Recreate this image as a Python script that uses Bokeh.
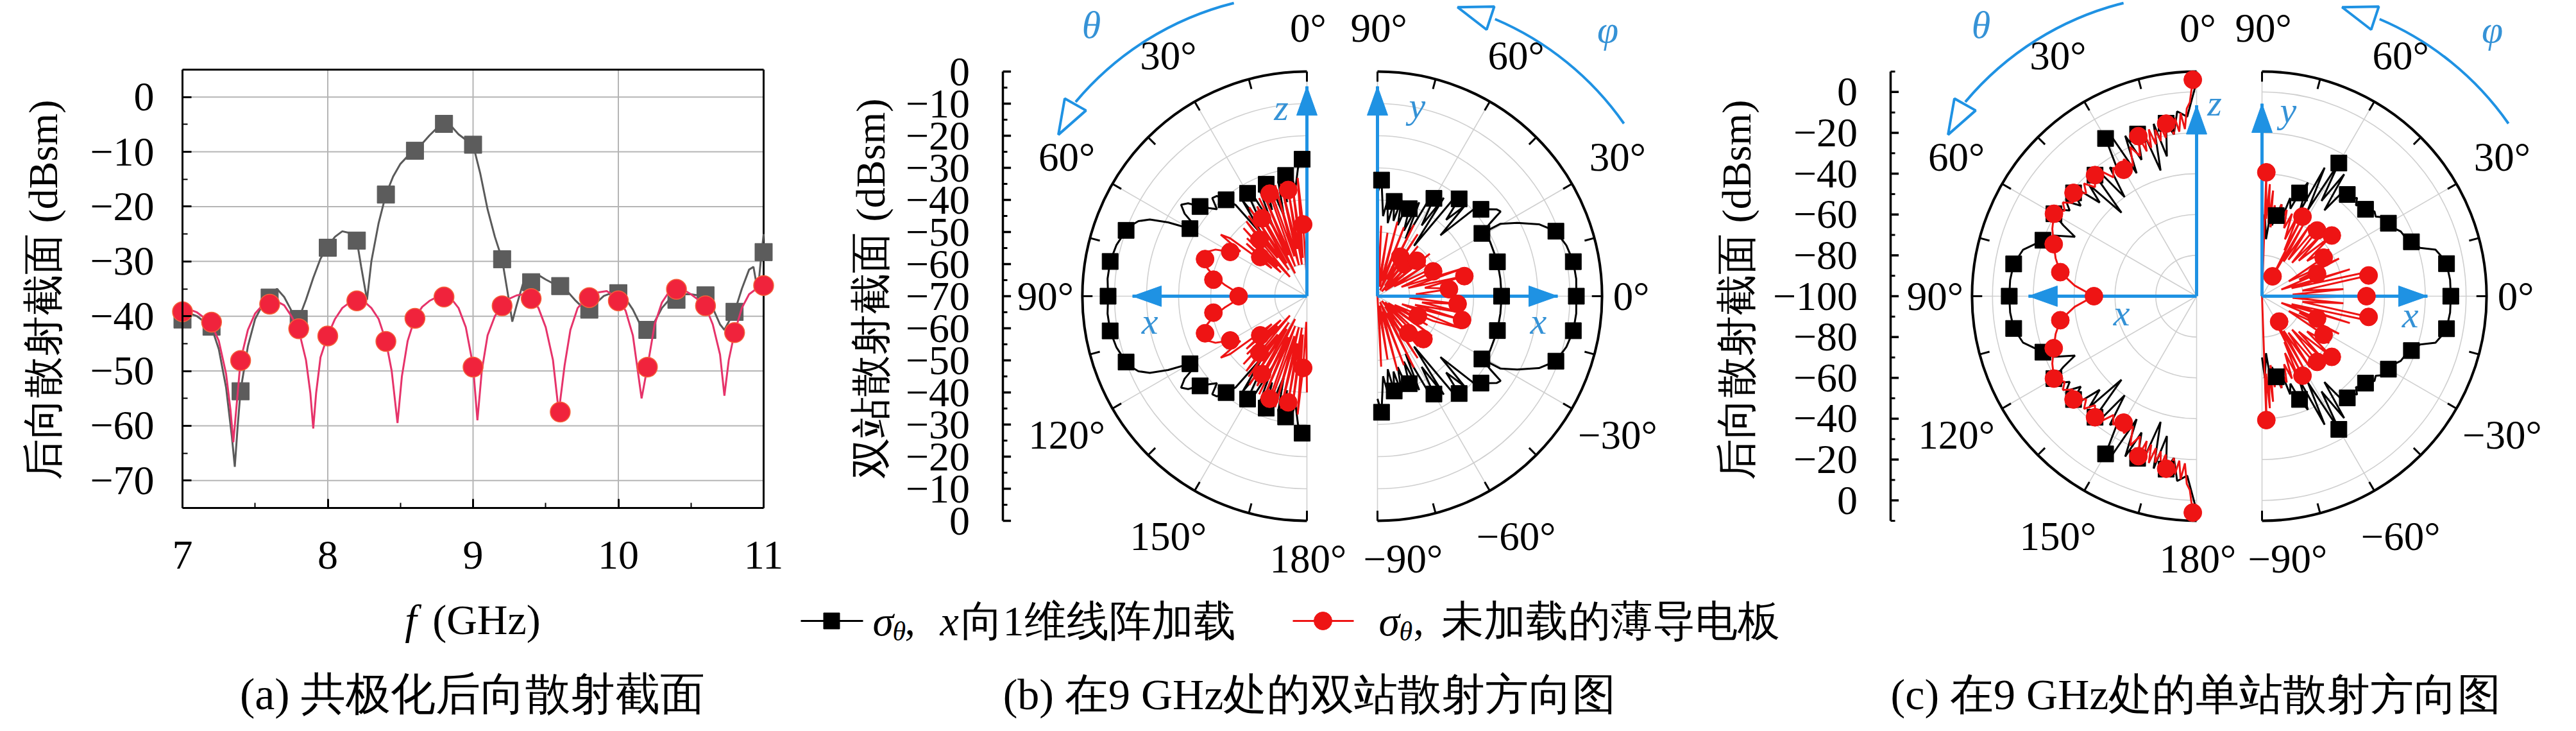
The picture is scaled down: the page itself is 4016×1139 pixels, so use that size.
import math
import numpy as np
from bokeh.plotting import figure
from bokeh.layouts import row
from bokeh.models import Range1d, FixedTicker, LinearAxis
from bokeh.core.properties import value
from bokeh.embed import file_html
from bokeh.resources import INLINE

FONT = "Liberation Serif"

# ======================= Panel (a): backscatter vs frequency =======================
freq_markers = [7.0, 7.2, 7.4, 7.6, 7.8, 8.0, 8.2, 8.4, 8.6, 8.8, 9.0,
                9.2, 9.4, 9.6, 9.8, 10.0, 10.2, 10.4, 10.6, 10.8, 11.0]
loaded_markers = [-40.6, -41.9, -53.7, -36.6, -40.5, -27.5, -26.2, -17.8, -9.8, -4.9, -8.7,
                  -29.6, -33.8, -34.5, -38.8, -35.8, -42.5, -37.0, -36.2, -39.2, -28.3]
plate_markers = [-39.2, -41.1, -48.1, -37.8, -42.3, -43.6, -37.2, -44.6, -40.4, -36.5, -49.3,
                 -38.1, -36.8, -57.5, -36.6, -37.2, -49.3, -35.1, -38.1, -43.0, -34.4]

loaded_curve = [(7.00, -39.5), (7.05, -39.5), (7.10, -40), (7.15, -41), (7.20, -42), (7.25, -46),
                (7.30, -53), (7.34, -62), (7.36, -67.5), (7.38, -60), (7.40, -53.5), (7.45, -45.5),
                (7.50, -40.5), (7.55, -38), (7.60, -36.5), (7.65, -35), (7.70, -36.5), (7.75, -39),
                (7.80, -40.5), (7.85, -37), (7.90, -33), (7.95, -29.5), (8.00, -27.2), (8.05, -25.5),
                (8.10, -24.5), (8.15, -24.8), (8.20, -26.2), (8.23, -31), (8.27, -37), (8.30, -30),
                (8.35, -23), (8.40, -17.8), (8.45, -14.5), (8.50, -12.2), (8.55, -10.8), (8.60, -9.8),
                (8.65, -8.5), (8.70, -7), (8.75, -5.7), (8.80, -4.8), (8.85, -5.3), (8.90, -6.8),
                (8.95, -7.8), (9.00, -8.7), (9.05, -14), (9.10, -20.5), (9.15, -25.5), (9.20, -29.6),
                (9.24, -36), (9.27, -41), (9.30, -38), (9.35, -33.5), (9.40, -32.5), (9.45, -32.5),
                (9.50, -33.3), (9.55, -34), (9.60, -34.5), (9.65, -35.5), (9.70, -37), (9.75, -38.3),
                (9.80, -38.8), (9.85, -37.5), (9.90, -36.3), (9.95, -35.8), (10.00, -35.8),
                (10.05, -36.8), (10.10, -38.8), (10.15, -41.5), (10.20, -43), (10.25, -41),
                (10.30, -38.5), (10.35, -37), (10.40, -36.3), (10.45, -36), (10.50, -36),
                (10.55, -36.2), (10.60, -36.5), (10.65, -38.5), (10.70, -41.5), (10.73, -42.5),
                (10.76, -41), (10.80, -39.2), (10.85, -35), (10.90, -31.5), (10.93, -31),
                (10.96, -35.5), (10.98, -30), (11.00, -25)]

plate_curve = [(7.00, -39.2), (7.05, -38.8), (7.10, -39.3), (7.15, -40.3), (7.20, -41.5), (7.25, -44.5),
               (7.30, -50.5), (7.33, -57), (7.35, -63), (7.37, -57), (7.40, -48), (7.45, -42.5),
               (7.50, -39.5), (7.55, -38), (7.60, -37.5), (7.65, -37.3), (7.70, -38), (7.75, -40),
               (7.80, -42.5), (7.85, -48), (7.88, -54), (7.90, -60.5), (7.92, -54), (7.95, -47.5),
               (8.00, -43.5), (8.05, -40.5), (8.10, -38.5), (8.15, -37.5), (8.20, -37), (8.25, -37.3),
               (8.30, -38.5), (8.35, -40.5), (8.40, -44.5), (8.44, -50), (8.48, -59.5), (8.51, -51),
               (8.55, -44.5), (8.60, -40.3), (8.65, -38.3), (8.70, -37.2), (8.75, -36.5), (8.80, -36.3),
               (8.85, -36.8), (8.90, -38.5), (8.95, -42), (9.00, -49), (9.03, -59), (9.06, -50),
               (9.10, -43.5), (9.15, -40), (9.20, -38), (9.25, -36.8), (9.30, -36.2), (9.35, -36),
               (9.40, -36.6), (9.45, -38.5), (9.50, -42), (9.55, -48), (9.59, -57.5), (9.63, -49),
               (9.67, -42.5), (9.72, -38.5), (9.78, -36.7), (9.85, -35.7), (9.92, -35.4),
               (10.00, -36.8), (10.05, -39), (10.10, -43.5), (10.16, -55), (10.20, -49.3),
               (10.25, -41.5), (10.30, -37.5), (10.35, -35.5), (10.40, -35), (10.45, -35.2),
               (10.50, -36), (10.55, -37), (10.60, -38.2), (10.65, -41.5), (10.70, -47),
               (10.73, -54.5), (10.76, -48), (10.80, -43), (10.85, -38.5), (10.90, -36),
               (10.95, -35), (11.00, -34.4)]

a_xticks = [7, 8, 9, 10, 11]
a_xminor = [7.5, 8.5, 9.5, 10.5]
a_yticks = [0, -10, -20, -30, -40, -50, -60, -70]
a_yminor = [-5, -15, -25, -35, -45, -55, -65]
a_ytick_labels = ["0", "−10", "−20", "−30", "−40", "−50", "−60", "−70"]

# ======================= Panel (b): bistatic pattern at 9 GHz (scale -70..0 dBsm) =======================
b_theta_black = [(0, -26), (2, -27.3), (4, -30), (6, -36), (8, -31), (10, -31.8), (12, -40), (14, -33),
                 (16, -44), (18, -34), (20, -32.9), (22, -41), (24, -34), (26, -46), (28, -35), (30, -33),
                 (32, -43), (34, -34), (36, -47), (38, -34), (40, -30.8), (42, -28), (44, -27.5), (46, -31),
                 (48, -29), (50, -26.5), (52, -23), (54, -21.5), (56, -24), (58, -29), (60, -27.9),
                 (62, -21), (64, -15.5), (66, -12.5), (68, -11), (70, -10), (75, -8.5), (80, -7.7),
                 (85, -7.6), (90, -8), (95, -7.6), (100, -7.7), (105, -8.5), (110, -10), (112, -11),
                 (114, -12.5), (116, -15.5), (118, -21), (120, -27.9), (122, -29), (124, -24),
                 (126, -21.5), (128, -23), (130, -26.5), (132, -29), (134, -31), (136, -27.5), (138, -28),
                 (140, -30.8), (142, -34), (144, -47), (146, -34), (148, -43), (150, -33), (152, -35),
                 (154, -46), (156, -34), (158, -41), (160, -32.9), (162, -34), (164, -44), (166, -33),
                 (168, -40), (170, -31.8), (172, -31), (174, -36), (176, -30), (178, -27.3), (180, -26)]
b_theta_black_mk = [(2, -27.3), (10, -31.8), (20, -32.9), (30, -33), (40, -30.8), (50, -26.5), (60, -27.9),
                    (70, -10), (80, -7.7), (90, -8), (100, -7.7), (110, -10), (120, -27.9), (130, -26.5),
                    (140, -30.8), (150, -33), (160, -32.9), (170, -31.8), (178, -27.3)]
b_theta_red = [(0, -40), (1.5, -62), (3, -47.6), (4.5, -33), (6, -58), (7.5, -34), (9, -60), (10, -36.4),
               (11.5, -55), (13, -33), (14.5, -60), (16, -34), (17.5, -57), (19, -33), (20, -36),
               (21.5, -60), (23, -35), (24.5, -56), (26, -36), (27.5, -62), (29, -38), (30, -42),
               (31.5, -58), (33, -37), (34.5, -60), (36, -39), (37.5, -55), (39, -40), (40, -47),
               (41.5, -62), (43, -41), (44.5, -57), (46, -44), (47.5, -59), (49, -45), (50, -51),
               (51.5, -56), (53, -40), (54.5, -37), (56, -45), (58, -43), (60, -42.4), (63, -38),
               (66, -36), (70, -36.2), (74, -37.5), (78, -40.4), (82, -44), (86, -47.5), (90, -48.7),
               (94, -47.5), (98, -44), (102, -40.4), (106, -37.5), (110, -36.2), (114, -36), (117, -38),
               (120, -42.4), (122, -43), (124, -45), (125.5, -37), (127, -40), (128.5, -56), (130, -51),
               (131, -45), (132.5, -59), (134, -44), (135.5, -57), (137, -41), (138.5, -62), (140, -47),
               (141, -40), (142.5, -55), (144, -39), (145.5, -60), (147, -37), (148.5, -58), (150, -42),
               (151, -38), (152.5, -62), (154, -36), (155.5, -56), (157, -35), (158.5, -60), (160, -36),
               (161, -33), (162.5, -57), (164, -34), (165.5, -60), (167, -33), (168.5, -55),
               (170, -36.4), (171, -60), (172.5, -34), (174, -58), (175.5, -33), (177, -47.6),
               (178.5, -62), (180, -40)]
b_theta_red_mk = [(3, -47.6), (10, -36.4), (20, -36), (30, -42), (40, -47), (50, -51), (60, -42.4),
                  (70, -36.2), (80, -40.4), (90, -48.7), (100, -40.4), (110, -36.2), (120, -42.4),
                  (130, -51), (140, -47), (150, -42), (160, -36), (170, -36.4), (177, -47.6)]
b_phi_black = [(90, -38), (88, -33.8), (86, -45), (84, -40), (82, -47), (80, -40), (78, -46), (76, -39),
               (74, -47), (72, -40), (70, -41), (68, -48), (66, -38), (64, -50), (62, -36), (60, -34.8),
               (58, -44), (56, -33), (54, -50.6), (52, -32), (50, -30.4), (48, -38), (46, -31),
               (44, -42.7), (42, -29), (40, -27.9), (38, -26), (36, -24), (34.5, -23.4), (33, -28),
               (31, -32), (30.5, -25.6), (27.7, -20.8), (24, -14.9), (20, -10.8), (15, -9), (10, -8),
               (5, -7.8), (0, -8), (-5, -7.8), (-10, -8), (-15, -9), (-20, -10.8), (-24, -14.9),
               (-27.7, -20.8), (-30.5, -25.6), (-31, -32), (-26, -31), (-16, -31.1), (-8, -31.3),
               (0, -31.3), (8, -31.3), (16, -31.1), (26, -31), (31, -32), (None, None),
               (-31, -32), (-33, -28), (-34.5, -23.4), (-36, -24), (-38, -26), (-40, -27.9), (-42, -29),
               (-44, -42.7), (-46, -31), (-48, -38), (-50, -30.4), (-52, -32), (-54, -50.6), (-56, -33),
               (-58, -44), (-60, -34.8), (-62, -36), (-64, -50), (-66, -38), (-68, -48), (-70, -41),
               (-72, -40), (-74, -47), (-76, -39), (-78, -46), (-80, -40), (-82, -47), (-84, -40),
               (-86, -45), (-88, -33.8), (-90, -38)]
b_phi_black_mk = [(88, -33.8), (80, -40), (70, -41), (60, -34.8), (50, -30.4), (40, -27.9), (31, -32),
                  (20, -10.8), (10, -8), (0, -8), (-10, -8), (-20, -10.8), (16, -31.1), (0, -31.3),
                  (-16, -31.1), (-31, -32), (-40, -27.9), (-50, -30.4), (-60, -34.8), (-70, -41),
                  (-80, -40), (-88, -33.8)]
b_phi_red = [(90, -70), (87, -48), (84, -66), (81, -50), (78, -67), (75, -46), (72, -65), (69, -47),
             (66, -68), (63, -45), (60, -64), (57, -47), (54, -66), (51, -50), (48, -68), (45, -53),
             (42, -66), (39, -49), (36, -67), (33, -52), (30, -64), (27, -50), (24, -51), (21, -62),
             (18, -42), (15, -60), (13, -42.2), (10, -55), (7, -50), (5.6, -47.6), (3, -58), (0, -50),
             (-3, -60), (-5.5, -44.9), (-8, -56), (-11, -43), (-13, -58), (-15.7, -42.6), (-18, -62),
             (-21, -42), (-24, -51), (-27, -64), (-30, -52), (-33, -66), (-36, -49), (-39, -67),
             (-42, -53), (-45, -51), (-48, -68), (-51, -50), (-54, -66), (-57, -47), (-60, -64),
             (-63, -45), (-66, -68), (-69, -47), (-72, -65), (-75, -46), (-78, -67), (-81, -50),
             (-84, -66), (-87, -48), (-90, -70)]
b_phi_red_mk = [(60, -55.8), (50, -57), (42, -53.5), (24, -51), (13, -42.2), (5.6, -47.6), (-5.5, -44.9),
                (-15.7, -42.6), (-26, -56), (-43, -50.4), (-50, -55)]

# ======================= Panel (c): monostatic pattern at 9 GHz (scale -100..10 dBsm) =======================
c_theta_black = [(0, 5), (3, -12), (6, -9), (8, -20), (10, -14), (12, -30), (14, -13), (16, -36), (18, -16),
                 (20, -15.5), (22, -28), (24, -14), (26, -33), (28, -12), (30, -10.8), (32, -27), (34, -24),
                 (36, -40), (38, -23), (40, -22.6), (42, -45), (44, -24), (46, -34), (48, -22), (50, -21.3),
                 (52, -28), (54, -21), (56, -25), (58, -20), (60, -19.3), (62, -26), (64, -33.7), (67, -24),
                 (70, -19.9), (75, -12), (80, -9), (85, -8.3), (90, -8.2), (95, -8.3), (100, -9),
                 (105, -12), (110, -19.9), (113, -24), (116, -33.7), (118, -26), (120, -19.3), (122, -20),
                 (124, -25), (126, -21), (128, -28), (130, -21.3), (132, -22), (134, -34), (136, -24),
                 (138, -45), (140, -22.6), (142, -23), (144, -40), (146, -24), (148, -27), (150, -10.8),
                 (152, -12), (154, -33), (156, -14), (158, -28), (160, -15.5), (162, -16), (164, -36),
                 (166, -13), (168, -30), (170, -14), (172, -20), (174, -9), (177, -12), (180, 5)]
c_theta_black_mk = [(10, -14), (20, -15.5), (30, -10.8), (40, -22.6), (50, -21.3), (60, -19.3),
                    (70, -19.9), (80, -9), (90, -8.2), (100, -9), (110, -19.9), (120, -19.3),
                    (130, -21.3), (140, -22.6), (150, -10.8), (160, -15.5), (170, -14)]
c_theta_red = [(0, 6), (1, 6), (2, -5), (3, -8), (4, -18), (5, -10), (6, -19), (7, -12), (8, -20), (9, -13),
               (10, -14.2), (11, -21), (12, -15), (13, -22), (14, -16), (15, -23), (16, -15), (17, -24),
               (18, -17), (19, -25), (20, -16.6), (22, -26), (24, -20), (26, -29), (28, -24), (30, -28.5),
               (33, -25), (35, -29), (37, -24), (40, -22.6), (43, -27), (45, -22), (47, -26), (50, -21.3),
               (53, -24), (55, -20), (57, -23), (60, -19.3), (65, -22), (70, -25.5), (75, -28.5),
               (80, -32.2), (85, -40), (90, -49.7), (95, -40), (100, -32.2), (105, -28.5), (110, -25.5),
               (115, -22), (120, -19.3), (123, -23), (125, -20), (127, -24), (130, -21.3), (133, -26),
               (135, -22), (137, -27), (140, -22.6), (143, -24), (145, -29), (147, -25), (150, -28.5),
               (152, -24), (154, -29), (156, -20), (158, -26), (160, -16.6), (161, -25), (162, -17),
               (163, -24), (164, -15), (165, -23), (166, -16), (167, -22), (168, -15), (169, -21),
               (170, -14.2), (171, -13), (172, -20), (173, -12), (174, -19), (175, -10), (176, -18),
               (177, -8), (178, -5), (179, 6), (180, 6)]
c_theta_red_mk = [(1, 6), (10, -14.2), (20, -16.6), (30, -28.5), (40, -22.6), (50, -21.3), (60, -19.3),
                  (70, -25.5), (80, -32.2), (90, -49.7), (100, -32.2), (110, -25.5), (120, -19.3),
                  (130, -21.3), (140, -22.6), (150, -28.5), (160, -16.6), (170, -14.2), (179, 6)]
c_phi_black = [(90, -70), (88, -60), (86, -72), (84, -58), (82, -65), (80, -59.9), (78, -54), (76, -62),
               (74, -50), (72, -55), (70, -46.2), (68, -40), (66, -55), (64, -30), (62, -52), (60, -24.7),
               (58, -45), (56, -28), (54, -48), (52, -33), (50, -35), (48, -37), (46, -33), (44, -36),
               (42, -33), (40, -33.8), (37, -31), (35, -32), (33, -29), (30, -28.5), (27, -27), (25, -25),
               (22, -24), (20, -22.1), (17, -19), (15, -12), (12, -9.5), (10, -8.2), (5, -7.5), (0, -7.5),
               (-5, -7.5), (-10, -8.2), (-12, -9.5), (-15, -12), (-17, -19), (-20, -22.1), (-22, -24),
               (-25, -25), (-27, -27), (-30, -28.5), (-33, -29), (-35, -32), (-37, -31), (-40, -33.8),
               (-42, -33), (-44, -36), (-46, -33), (-48, -37), (-50, -35), (-52, -33), (-54, -48),
               (-56, -28), (-58, -45), (-60, -24.7), (-62, -52), (-64, -30), (-66, -55), (-68, -40),
               (-70, -46.2), (-72, -55), (-74, -50), (-76, -62), (-78, -54), (-80, -59.9), (-82, -65),
               (-84, -58), (-86, -72), (-88, -60), (-90, -70)]
c_phi_black_mk = [(80, -59.9), (70, -46.2), (60, -24.7), (50, -35), (40, -33.8), (30, -28.5), (20, -22.1),
                  (10, -8.2), (0, -7.5), (-10, -8.2), (-20, -22.1), (-30, -28.5), (-40, -33.8), (-50, -35),
                  (-60, -24.7), (-70, -46.2), (-80, -59.9)]
c_phi_red = [(90, -100), (88, -39.3), (87, -62), (86, -45), (85, -64), (84, -48), (83, -66), (82, -55),
             (80, -63), (78, -54), (76, -62), (74, -56), (72, -65), (70, -57), (68, -70), (66, -55),
             (64, -75), (63, -56.3), (62, -89), (60, -60), (58, -80), (56, -58), (54, -78), (52, -60),
             (50, -58), (48, -78), (46, -55), (44, -75), (41, -54.7), (38, -72), (35, -60), (32, -64.4),
             (29, -85), (26, -58), (24, -80), (22, -70.9), (19, -90), (17, -55), (15, -85), (13, -50),
             (11, -46.8), (8, -80), (5, -60), (3, -85), (0, -48.8), (-3, -85), (-5, -60), (-8, -80),
             (-11, -46.8), (-13, -50), (-15, -85), (-17, -55), (-19, -90), (-22, -70.9), (-24, -80),
             (-26, -58), (-29, -85), (-32, -64.4), (-35, -60), (-38, -72), (-41, -54.7), (-44, -75),
             (-46, -55), (-48, -78), (-50, -58), (-52, -60), (-54, -78), (-56, -58), (-58, -80),
             (-60, -60), (-62, -89), (-63, -56.3), (-64, -75), (-66, -55), (-68, -70), (-70, -57),
             (-72, -65), (-74, -56), (-76, -62), (-78, -54), (-80, -63), (-82, -55), (-83, -66),
             (-84, -48), (-85, -64), (-86, -45), (-87, -62), (-88, -39.3), (-90, -100)]
c_phi_red_mk = [(88, -39.3), (63, -56.3), (62, -89), (50, -58), (41, -54.7), (32, -64.4), (22, -70.9),
                (11, -46.8), (0, -48.8), (-11, -46.8), (-22, -70.9), (-32, -64.4), (-41, -54.7),
                (-50, -58), (-56, -85), (-63, -56.3), (-88, -39.3)]

theta_angles = [0, 30, 60, 90, 120, 150, 180]
theta_labels = ["0°", "30°", "60°", "90°", "120°", "150°", "180°"]
phi_angles = [90, 60, 30, 0, -30, -60, -90]
phi_labels = ["90°", "60°", "30°", "0°", "−30°", "−60°", "−90°"]
b_radial_vals = [0, -10, -20, -30, -40, -50, -60, -70]
b_radial_labels = ["0", "−10", "−20", "−30", "−40", "−50", "−60", "−70"]
c_radial_vals = [0, -20, -40, -60, -80, -100]
c_radial_labels = ["0", "−20", "−40", "−60", "−80", "−100"]

legend_black = "x向1维线阵加载"
legend_red = "未加载的薄导电板"

# ======================= styling =======================
BLUE = "#1f92e3"
BLUE_T = "#3592d6"
GRID = "#cfcfcf"
RED = "#ee1414"

# ======================= figure (a) =======================
# the frame fills the whole figure; the axes sit at fixed data locations inside it
KX, KY = 226.5, 8.5375  # px per GHz, px per dB


def ax_(px):
    return 7 + (px - 292) / KX


def ay_(py):
    return 5 - (py - 116) / KY


pa = figure(width=1232, height=1123, x_range=Range1d(ax_(8), ax_(1240)), y_range=Range1d(ay_(1131), ay_(8)),
            output_backend="svg", toolbar_location=None, min_border=0,
            x_axis_type=None, y_axis_type=None)
pa.outline_line_color = None
pa.background_fill_color = "white"
pa.border_fill_color = "white"

# grid lines at the major ticks
pa.segment(x0=a_xticks[1:-1], y0=[-75] * 3, x1=a_xticks[1:-1], y1=[5] * 3, line_color="#b5b5b5", line_width=2)
pa.segment(x0=[7] * len(a_yticks), y0=a_yticks, x1=[11] * len(a_yticks), y1=a_yticks,
           line_color="#b5b5b5", line_width=2)

xax = LinearAxis(fixed_location=-75, bounds=(7, 11),
                 ticker=FixedTicker(ticks=a_xticks, minor_ticks=a_xminor))
yax = LinearAxis(fixed_location=7, bounds=(-75, 5),
                 ticker=FixedTicker(ticks=a_yticks, minor_ticks=a_yminor))
yax.major_label_overrides = {t: s for t, s in zip(a_yticks, a_ytick_labels)}
for ax in (xax, yax):
    ax.axis_line_width = 3
    ax.major_tick_line_width = 3
    ax.minor_tick_line_width = 2
    ax.major_tick_in = 14
    ax.major_tick_out = 0
    ax.minor_tick_in = 8
    ax.minor_tick_out = 0
    ax.major_label_text_font = FONT
    ax.major_label_text_font_size = "64px"
    ax.major_label_text_color = "black"
yax.major_label_standoff = 44
xax.major_label_standoff = 52
pa.add_layout(xax, "below")
pa.add_layout(yax, "left")

# frame box (top and right sides)
pa.segment(x0=[7, 11], y0=[5, 5], x1=[11, 11], y1=[5, -75], line_color="black", line_width=3)

lx = [p[0] for p in loaded_curve]
ly = [p[1] for p in loaded_curve]
px_ = [p[0] for p in plate_curve]
py_ = [p[1] for p in plate_curve]
pa.line(lx, ly, line_color="#5a5a5a", line_width=3)
pa.scatter(freq_markers, loaded_markers, marker="square", size=27, fill_color="#5c5c5c", line_color="#5c5c5c")
pa.line(px_, py_, line_color="#e6336a", line_width=3)
pa.scatter(freq_markers, plate_markers, marker="circle", size=31, fill_color="#f0233c", line_color="#f5603a",
           line_width=1.5)

pa.text(x=[ax_(75)], y=[ay_(459)], text=["后向散射截面 (dBsm)"], angle=math.pi / 2,
        text_font=value(FONT), text_font_size=value("64px"), text_align="center", text_baseline="middle")
pa.text(x=[ax_(648)], y=[ay_(973)], text=["f"], text_font=value(FONT), text_font_size=value("66px"),
        text_font_style=value("italic"), text_align="center", text_baseline="middle")
pa.text(x=[ax_(766)], y=[ay_(973)], text=["(GHz)"], text_font=value(FONT), text_font_size=value("66px"),
        text_align="center", text_baseline="middle")
pa.text(x=[ax_(744)], y=[ay_(1089)], text=["(a) 共极化后向散射截面"], text_font=value(FONT),
        text_font_size=value("70px"), text_align="center", text_baseline="middle")

# ======================= figure (b)+(c) =======================
U = 350.0  # pixels per unit radius
X0 = 2045.0
Y0 = 469.0
W2, H2 = 2768, 1123
pb = figure(width=W2, height=H2,
            x_range=Range1d((1240 - X0) / U, (1240 + W2 - X0) / U),
            y_range=Range1d((Y0 - 8 - H2) / U, (Y0 - 8) / U),
            output_backend="svg", toolbar_location=None, min_border=0,
            x_axis_type=None, y_axis_type=None)
pb.outline_line_color = None
pb.background_fill_color = "white"
pb.border_fill_color = "white"


def sx(px):
    return (px - X0) / U


def sy(py):
    return (Y0 - py) / U


def to_xy(pairs, vmin, vmax, cx, side):
    ang = np.array([np.nan if a is None else a for a, v in pairs], dtype=float)
    val = np.array([np.nan if v is None else v for a, v in pairs], dtype=float)
    r = np.clip((val - vmin) / (vmax - vmin), 0, None)
    t = np.deg2rad(ang)
    if side == "L":
        return cx - r * np.sin(t), r * np.cos(t)
    return cx + r * np.cos(t), r * np.sin(t)


def unit(angle_deg, cx, side, rr):
    t = math.radians(angle_deg)
    if side == "L":
        return cx - rr * math.sin(t), rr * math.cos(t)
    return cx + rr * math.cos(t), rr * math.sin(t)


def tri(x0, y0, x1, y1, length, half_w):
    dx, dy = x1 - x0, y1 - y0
    n = math.hypot(dx, dy)
    ux, uy = dx / n, dy / n
    bx, by = x1 - ux * length, y1 - uy * length
    return [x1, bx - uy * half_w, bx + uy * half_w], [y1, by + ux * half_w, by - ux * half_w]


def half_frame(cx, side, ring_r):
    if side == "L":
        a0, a1 = math.pi / 2, 3 * math.pi / 2
        spoke = [0, 30, 60, 90, 120, 150, 180]
        tick = list(range(0, 181, 15))
    else:
        a0, a1 = -math.pi / 2, math.pi / 2
        spoke = [90, 60, 30, 0, -30, -60, -90]
        tick = list(range(-90, 91, 15))
    n = len(ring_r)
    pb.arc(x=[cx] * n, y=[0] * n, radius=ring_r, start_angle=a0, end_angle=a1,
           line_color=GRID, line_width=1.6)
    ends = [unit(a, cx, side, 1.0) for a in spoke]
    pb.segment(x0=[cx] * len(ends), y0=[0] * len(ends), x1=[e[0] for e in ends], y1=[e[1] for e in ends],
               line_color=GRID, line_width=1.6)
    pb.arc(x=[cx], y=[0], radius=[1.0], start_angle=a0, end_angle=a1, line_color="black", line_width=4)
    o = [unit(a, cx, side, 1.0) for a in tick]
    i = [unit(a, cx, side, 0.955) for a in tick]
    pb.segment(x0=[p[0] for p in o], y0=[p[1] for p in o], x1=[p[0] for p in i], y1=[p[1] for p in i],
               line_color="black", line_width=3)


def angle_labels(cx, side, angles, labels):
    xs, ys = [], []
    for a in angles:
        if side == "L":
            if a in (0, 180):
                x, y = cx + 0.005, (1.194 if a == 0 else -1.171)
            elif a == 90:
                x, y = cx - 1.165, 0.0
            else:
                x, y = unit(a, cx, side, 1.235)
        else:
            if a in (90, -90):
                x, y = (cx + 0.006, 1.194) if a == 90 else (cx + 0.114, -1.171)
            elif a == 0:
                x, y = cx + 1.13, 0.0
            else:
                x, y = unit(a, cx, side, 1.235)
        xs.append(x)
        ys.append(y)
    pb.text(x=xs, y=ys, text=labels, text_font=value(FONT), text_font_size=value("63px"),
            text_align="center", text_baseline="middle", text_color="black")


def radial_axis(x_ax, vmin, vmax, major_vals, major_labels, minor_vals):
    pb.segment(x0=[x_ax], y0=[-1], x1=[x_ax], y1=[1], line_color="black", line_width=3.5)
    ys, labs = [], []
    for v, s in zip(major_vals, major_labels):
        r = (v - vmin) / (vmax - vmin)
        if r == 0:
            ys.append(0.0)
            labs.append(s)
        else:
            ys += [r, -r]
            labs += [s, s]
    pb.segment(x0=[x_ax] * len(ys), y0=ys, x1=[x_ax + 0.036] * len(ys), y1=ys, line_color="black", line_width=3.5)
    mys = []
    for v in minor_vals:
        r = (v - vmin) / (vmax - vmin)
        mys += [r, -r]
    pb.segment(x0=[x_ax] * len(mys), y0=mys, x1=[x_ax + 0.02] * len(mys), y1=mys, line_color="black", line_width=3)
    pb.text(x=[x_ax - 0.147] * len(ys), y=ys, text=labs, text_font=value(FONT), text_font_size=value("64px"),
            text_align="right", text_baseline="middle", text_color="black")


def axis_arrow(x0, y0, x1, y1):
    pb.segment(x0=[x0], y0=[y0], x1=[x1], y1=[y1], line_color=BLUE, line_width=5)
    tx, ty = tri(x0, y0, x1, y1, 45 / U, 16 / U)
    pb.patch(tx, ty, fill_color=BLUE, line_color=BLUE, line_width=1)


def rot_arrows(cxl, cxr):
    # theta arc (left half), counter-clockwise from the top
    pb.arc(x=[cxl], y=[0], radius=[1.345], start_angle=math.radians(104), end_angle=math.radians(140),
           line_color=BLUE, line_width=4)
    x0, y0 = cxl + 1.345 * math.cos(math.radians(139)), 1.345 * math.sin(math.radians(139))
    x1, y1 = cxl + 1.32 * math.cos(math.radians(147)), 1.32 * math.sin(math.radians(147))
    tx, ty = tri(x0, y0, x1, y1, 54 / U, 19 / U)
    pb.patch(tx, ty, fill_color="white", line_color=BLUE, line_width=4)
    # phi arc (right half)
    pb.arc(x=[cxr], y=[0], radius=[1.34], start_angle=math.radians(35), end_angle=math.radians(67),
           line_color=BLUE, line_width=4)
    x0, y0 = cxr + 1.34 * math.cos(math.radians(66)), 1.34 * math.sin(math.radians(66))
    x1, y1 = cxr + 1.335 * math.cos(math.radians(74.5)), 1.335 * math.sin(math.radians(74.5))
    tx, ty = tri(x0, y0, x1, y1, 54 / U, 19 / U)
    pb.patch(tx, ty, fill_color="white", line_color=BLUE, line_width=4)
    pb.text(x=[cxl - 0.96, cxr + 1.026], y=[1.206, 1.186], text=["θ", "φ"], text_font=value(FONT),
            text_font_size=value("60px"), text_font_style=value("italic"), text_color=BLUE_T,
            text_align="center", text_baseline="middle")


def panel(cxl, cxr, vmin, vmax, rings, tb, tbm, tr, trm, pbk, pbm, prd, prm, arrows, lab_pos):
    half_frame(cxl, "L", rings)
    half_frame(cxr, "R", rings)
    angle_labels(cxl, "L", theta_angles, theta_labels)
    angle_labels(cxr, "R", phi_angles, phi_labels)
    rot_arrows(cxl, cxr)
    for pairs, cx, side in ((tb, cxl, "L"), (pbk, cxr, "R")):
        x, y = to_xy(pairs, vmin, vmax, cx, side)
        pb.line(x, y, line_color="black", line_width=3)
    for pairs, cx, side in ((tr, cxl, "L"), (prd, cxr, "R")):
        x, y = to_xy(pairs, vmin, vmax, cx, side)
        pb.line(x, y, line_color=RED, line_width=3)
    zt, xlt, yt, xrt = arrows
    axis_arrow(cxl, 0, cxl, zt)
    axis_arrow(cxl, 0, cxl - xlt, 0)
    axis_arrow(cxr, 0, cxr, yt)
    axis_arrow(cxr, 0, cxr + xrt, 0)
    (zx, zy), (x1x, x1y), (yx, yy), (x2x, x2y) = lab_pos
    pb.text(x=[cxl + zx, cxl + x1x, cxr + yx, cxr + x2x], y=[zy, x1y, yy, x2y], text=["z", "x", "y", "x"],
            text_font=value(FONT), text_font_size=value("58px"), text_font_style=value("italic"),
            text_color=BLUE_T, text_align="center", text_baseline="middle")
    for pairs, cx, side in ((tbm, cxl, "L"), (pbm, cxr, "R")):
        x, y = to_xy(pairs, vmin, vmax, cx, side)
        pb.scatter(x, y, marker="square", size=25, fill_color="black", line_color="black")
    for pairs, cx, side in ((trm, cxl, "L"), (prm, cxr, "R")):
        x, y = to_xy(pairs, vmin, vmax, cx, side)
        pb.scatter(x, y, marker="circle", size=28, fill_color=RED, line_color=RED)


# panel (b)
b_cxl, b_cxr = sx(2045), sx(2155)
b_rings = [(v + 70) / 70 for v in (-60, -50, -40, -30, -20, -10)]
panel(b_cxl, b_cxr, -70, 0, b_rings, b_theta_black, b_theta_black_mk, b_theta_red, b_theta_red_mk,
      b_phi_black, b_phi_black_mk, b_phi_red, b_phi_red_mk,
      (0.934, 0.777, 0.934, 0.803),
      ((-0.114, 0.84), (-0.70, -0.11), (0.177, 0.85), (0.717, -0.11)))
radial_axis(sx(1571), -70, 0, b_radial_vals, b_radial_labels, [-5, -15, -25, -35, -45, -55, -65])
pb.text(x=[sx(1365)], y=[sy(457)], text=["双站散射截面 (dBsm)"], angle=math.pi / 2,
        text_font=value(FONT), text_font_size=value("64px"), text_align="center", text_baseline="middle")

# panel (c)
c_cxl, c_cxr = sx(3432), sx(3534)
c_rings = [(v + 100) / 110 for v in (-80, -60, -40, -20, 0)]
panel(c_cxl, c_cxr, -100, 10, c_rings, c_theta_black, c_theta_black_mk, c_theta_red, c_theta_red_mk,
      c_phi_black, c_phi_black_mk, c_phi_red, c_phi_red_mk,
      (0.85, 0.749, 0.857, 0.737),
      ((0.08, 0.86), (-0.334, -0.074), (0.117, 0.83), (0.66, -0.083)))
radial_axis(sx(2955), -100, 10, c_radial_vals, c_radial_labels, [10, -10, -30, -50, -70, -90])
pb.text(x=[sx(2715)], y=[sy(459)], text=["后向散射截面 (dBsm)"], angle=math.pi / 2,
        text_font=value(FONT), text_font_size=value("64px"), text_align="center", text_baseline="middle")

# legend
LY = sy(975)
pb.segment(x0=[sx(1256), sx(2023)], y0=[LY, LY], x1=[sx(1353), sx(2118)], y1=[LY, LY],
           line_color=["black", RED], line_width=3)
pb.scatter([sx(1304)], [LY], marker="square", size=25, fill_color="black", line_color="black")
pb.scatter([sx(2070)], [LY], marker="circle", size=28, fill_color=RED, line_color=RED)
pb.text(x=[sx(1368), sx(2157)], y=[LY, LY], text=["σ", "σ"], text_font=value(FONT),
        text_font_size=value("66px"), text_font_style=value("italic"), text_align="left", text_baseline="middle")
pb.text(x=[sx(1399), sx(2189)], y=[LY - 16 / U, LY - 16 / U], text=["θ", "θ"], text_font=value(FONT),
        text_font_size=value("42px"), text_font_style=value("italic"), text_align="left", text_baseline="middle")
pb.text(x=[sx(1418), sx(2211)], y=[LY, LY], text=[",", ","], text_font=value(FONT),
        text_font_size=value("66px"), text_align="left", text_baseline="middle")
pb.text(x=[sx(1473)], y=[LY], text=[legend_black[0]], text_font=value(FONT),
        text_font_size=value("66px"), text_font_style=value("italic"), text_align="left", text_baseline="middle")
pb.text(x=[sx(1505), sx(2254)], y=[LY, LY], text=[legend_black[1:], legend_red], text_font=value(FONT),
        text_font_size=value("66px"), text_align="left", text_baseline="middle")

# captions
pb.text(x=[sx(2049), sx(3431)], y=[sy(1089), sy(1089)],
        text=["(b) 在9 GHz处的双站散射方向图", "(c) 在9 GHz处的单站散射方向图"],
        text_font=value(FONT), text_font_size=value("68px"), text_align="center", text_baseline="middle")

layout = row(pa, pb)
open("out.html", "w").write(file_html(layout, INLINE))
